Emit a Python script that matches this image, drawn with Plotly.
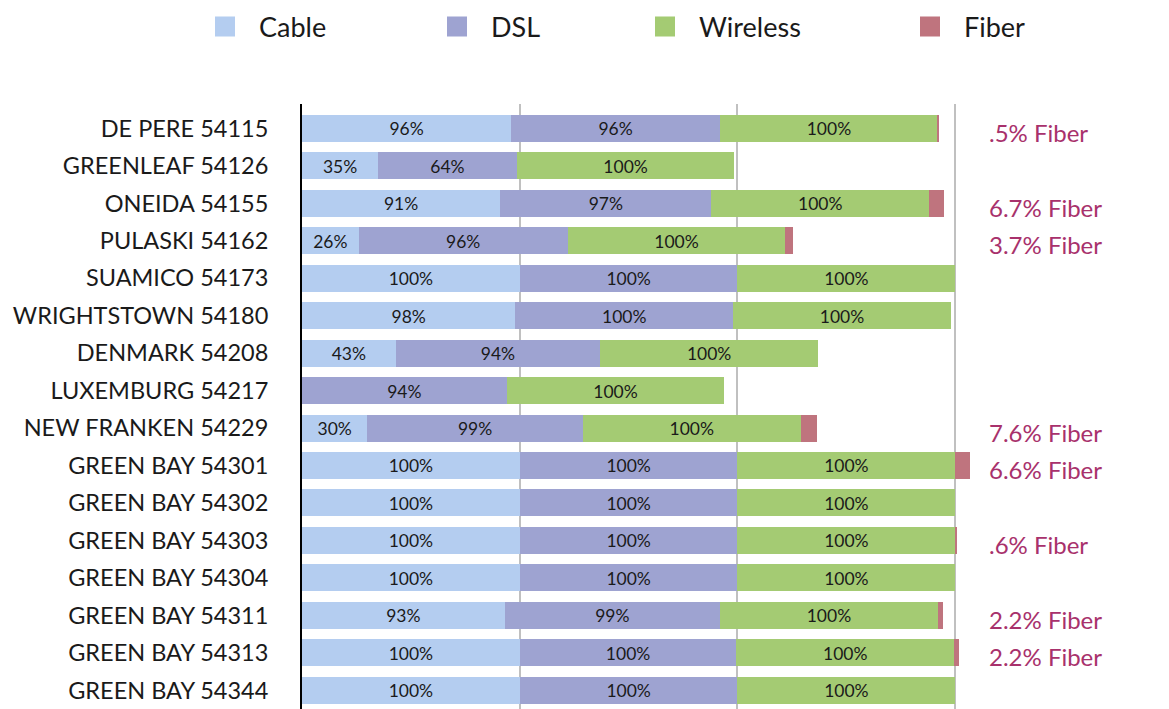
import plotly.graph_objects as go

categories = ["DE PERE 54115", "GREENLEAF 54126", "ONEIDA 54155", "PULASKI 54162",
              "SUAMICO 54173", "WRIGHTSTOWN 54180", "DENMARK 54208", "LUXEMBURG 54217",
              "NEW FRANKEN 54229", "GREEN BAY 54301", "GREEN BAY 54302", "GREEN BAY 54303",
              "GREEN BAY 54304", "GREEN BAY 54311", "GREEN BAY 54313", "GREEN BAY 54344"]
cable = [96, 35, 91, 26, 100, 98, 43, None, 30, 100, 100, 100, 100, 93, 100, 100]
dsl = [96, 63.6, 97, 96, 100, 100, 94, 94, 99, 100, 100, 100, 100, 99, 99.5, 100]
wireless = [100, 100, 100, 100, 100, 100, 100, 100, 100, 100, 100, 100, 100, 100, 100, 100]
fiber = [0.5, None, 6.7, 3.7, None, None, None, None, 7.6, 6.6, None, 0.6, None, 2.2, 2.2, None]

series_names = ["Cable", "DSL", "Wireless", "Fiber"]
colors = ["#b4cdf0", "#9ea3d1", "#a4cb73", "#bf747e"]
FONT = "Lato, 'Open Sans', sans-serif"
TXT = "#1a1a1a"
ANN = "#a8316c"

W, H = 1169, 709
ML, MR, MT = 302, 192, 104
PW = W - ML - MR

fig = go.Figure()
for name, vals, col in zip(series_names, [cable, dsl, wireless, fiber], colors):
    show_text = name != "Fiber"
    fig.add_trace(go.Bar(
        y=categories, x=vals, name=name, orientation="h",
        marker=dict(color=col, line=dict(width=0)),
        texttemplate="%{x:.0f}%" if show_text else None,
        textposition="inside" if show_text else "none",
        insidetextanchor="middle",
        textfont=dict(family=FONT, size=20, color=TXT),
        showlegend=False, hoverinfo="skip",
    ))

# legend entries (one legend per series, positioned like the reference)
legend_centers = [225, 457, 665, 930]
for i, (name, col) in enumerate(zip(series_names, colors)):
    lid = "legend" if i == 0 else f"legend{i+1}"
    fig.add_trace(go.Scatter(
        x=[None], y=[None], mode="markers", name=name, legend=lid,
        marker=dict(symbol="square", size=16, color=col, line=dict(color=col, width=4)),
        showlegend=True,
    ))

legend_common = dict(
    xref="container", yref="container", yanchor="middle", xanchor="left",
    y=1 - 27 / H, orientation="h", itemwidth=58,
    font=dict(family=FONT, size=27, color=TXT), bgcolor="rgba(0,0,0,0)",
)
for i, c in enumerate(legend_centers):
    key = "legend" if i == 0 else f"legend{i+1}"
    fig.update_layout(**{key: dict(x=(c - 34) / W, **legend_common)})

# fiber annotations on the right
for cat, v in zip(categories, fiber):
    if v is None:
        continue
    label = f"{v:g}"
    if label.startswith("0."):
        label = label[1:]
    fig.add_annotation(
        x=(987 - ML) / PW, y=cat, xref="paper", yref="y", text=f"{label}% Fiber",
        showarrow=False, xanchor="left", yanchor="middle", yshift=-4,
        font=dict(family=FONT, size=24, color=ANN),
    )

fig.update_layout(
    width=W, height=H,
    barmode="stack", bargap=0.28,
    plot_bgcolor="white", paper_bgcolor="white",
    margin=dict(l=ML, r=MR, t=MT, b=0),
    font=dict(family=FONT, color=TXT),
    xaxis=dict(range=[0, 310], dtick=100, showgrid=True, gridcolor="#c0c0c0",
               gridwidth=2, showticklabels=False, zeroline=False, showline=False,
               fixedrange=True),
    yaxis=dict(type="category", categoryorder="array", categoryarray=categories,
               range=[15.5, -0.65], showline=True, linecolor="black", linewidth=2,
               showgrid=False, ticks="", ticklabelstandoff=27,
               tickfont=dict(family=FONT, size=23.5, color=TXT), fixedrange=True),
)

fig.write_html("out.html", config={"displayModeBar": False},
               post_script="document.body.style.margin='0';")
